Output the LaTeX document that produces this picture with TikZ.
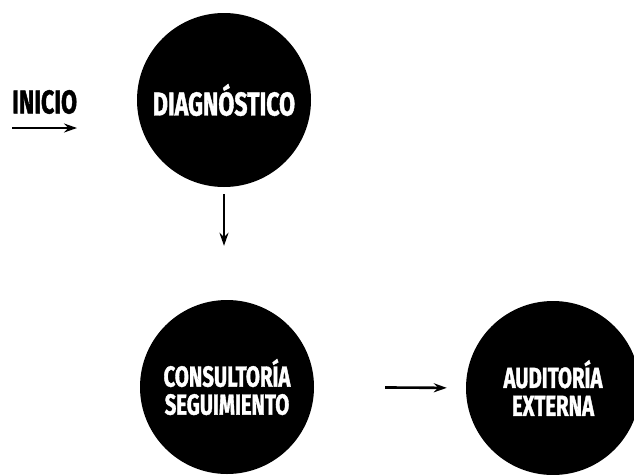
\documentclass[tikz,border=0pt]{standalone}
\usepackage{fontspec}
\setmainfont{Fira Sans}[FakeStretch=0.7,BoldFeatures={FakeBold=1.2}]
\usepackage{tikz}
\usetikzlibrary{arrows.meta}
\tikzset{
  etapa/.style={circle,fill=black,text=white,minimum size=174pt,inner sep=0pt,align=center,font=\bfseries\fontsize{29}{28}\selectfont},
  etapagr/.style={font=\bfseries\fontsize{33}{32}\selectfont},
  flecha/.style={-{Stealth[length=13pt,width=9pt]},line width=2.6pt}
}
\begin{document}
\begin{tikzpicture}[x=1pt,y=-1pt]
\useasboundingbox (0,0) rectangle (634,474);
\node[anchor=west,inner sep=0pt,etapagr] (inicio) at (12,102) {INICIO};
\coordinate (a1) at (12,128);
\coordinate (a2) at (77,128);
\node[etapa,etapagr] (diag) at (224,100) {DIAGNÓSTICO};
\node[etapa] (cons) at (227,387) {CONSULTORÍA\\SEGUIMIENTO};
\node[etapa] (audit) at (553,388) {AUDITORÍA\\EXTERNA};
\draw[flecha] (a1) -- (a2);
\draw[flecha,shorten <=7pt,shorten >=54pt] (diag.south) -- (diag.south |- cons.north);
\draw[flecha,shorten <=71pt,shorten >=19pt] (cons.east) -- (audit.west);
\end{tikzpicture}
\end{document}
